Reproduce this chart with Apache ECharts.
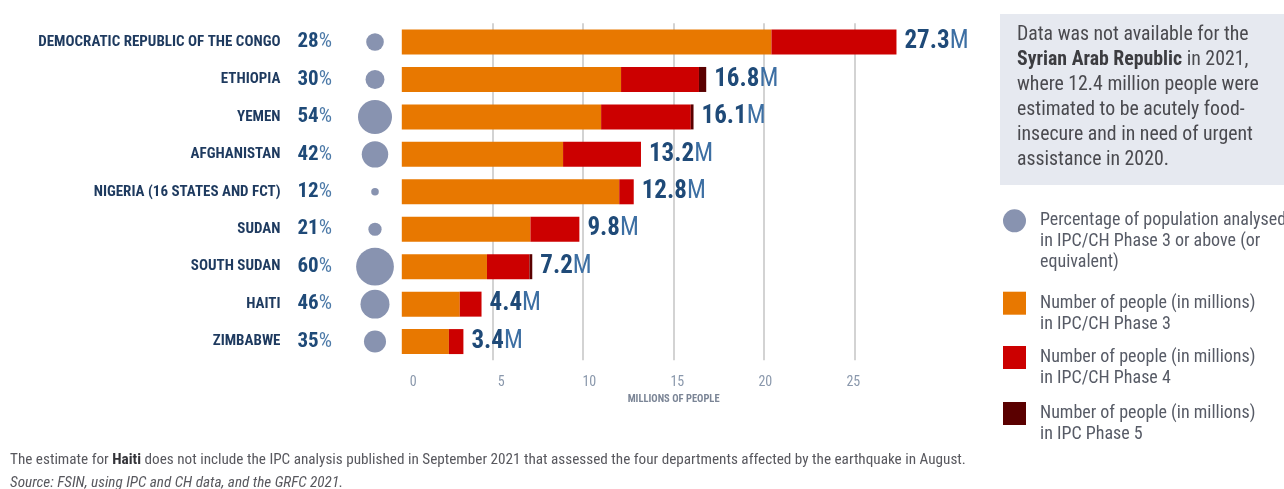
<!DOCTYPE html>
<html>
<head>
<meta charset="utf-8">
<script src="https://cdn.jsdelivr.net/npm/echarts@6/dist/echarts.min.js"></script>
<style>
html,body{margin:0;padding:0;background:#fff;}
#chart{width:1284px;height:489px;}
</style>
</head>
<body>
<div id="chart"></div>
<script>
const countries = ['DEMOCRATIC REPUBLIC OF THE CONGO','ETHIOPIA','YEMEN','AFGHANISTAN','NIGERIA (16 STATES AND FCT)','SUDAN','SOUTH SUDAN','HAITI','ZIMBABWE'];
const pctPhase3Plus = [28,30,54,42,12,21,60,46,35];
const phase3 = [20.4,12.1,11.0,8.9,12.0,7.1,4.7,3.2,2.6];
const phase4 = [6.9,4.3,4.95,4.3,0.8,2.7,2.35,1.2,0.8];
const phase5 = [0,0.4,0.15,0,0,0,0.15,0,0];
const totals = ['27.3','16.8','16.1','13.2','12.8','9.8','7.2','4.4','3.4'];
const xTickLabels = [0,5,10,15,20,25];

const FONT = "'Liberation Sans Narrow','Roboto Condensed','DejaVu Sans Condensed',sans-serif";
const NAME_PCT = 'Percentage of population analysed in IPC/CH Phase 3 or above (or equivalent)';
const NAME_P3 = 'Number of people (in millions) in IPC/CH Phase 3';
const NAME_P4 = 'Number of people (in millions) in IPC/CH Phase 4';
const NAME_P5 = 'Number of people (in millions) in IPC Phase 5';
const legendLines = {};
legendLines[NAME_PCT] = ['Percentage of population analysed', 'in IPC/CH Phase 3 or above (or', 'equivalent)'];
legendLines[NAME_P3] = ['Number of people (in millions)', 'in IPC/CH Phase 3'];
legendLines[NAME_P4] = ['Number of people (in millions)', 'in IPC/CH Phase 4'];
legendLines[NAME_P5] = ['Number of people (in millions)', 'in IPC Phase 5'];

const GRID_LEFT = 401.8, GRID_TOP = 23.3, GRID_H = 337, PX_PER_UNIT = 18.12, XMAX = 30;
const GRID_W = PX_PER_UNIT * XMAX;
const LABEL_PX = 17.6, LABEL_SHIFT = 11.5;
const lblMin = -LABEL_SHIFT / LABEL_PX;
const lblMax = lblMin + GRID_W / LABEL_PX;

const C3 = '#e87800', C4 = '#cc0000', C5 = '#5a0000', CIRC = '#8893b0';
const TXT = '#575b66';

// icon aligned with the first text line: pad the block with leading blank lines
function mkLegend(name, icon, top) {
  const lines = legendLines[name];
  const pad = new Array(lines.length - 1).fill('').join('\n');
  return {
    show: true, orient: 'vertical', left: 1003, top: top, padding: 0,
    itemWidth: 23, itemHeight: 23, selectedMode: false,
    data: [{name: name, icon: icon}],
    formatter: () => pad + '\n' + lines.join('\n'),
    textStyle: {fontFamily: FONT, fontSize: 18, lineHeight: 21, color: TXT, padding: [0, 0, 0, 9]}
  };
}

const chart = echarts.init(document.getElementById('chart'), null, {renderer: 'canvas'});
const option = {
  animation: false,
  backgroundColor: '#ffffff',
  title: [
    {
      left: 1000, top: 14,
      text: 'Data was not available for the\n{b|Syrian Arab Republic} in 2021,\nwhere 12.4 million people were\nestimated to be acutely food-\ninsecure and in need of urgent\nassistance in 2020.',
      backgroundColor: '#e6e9f0',
      padding: [9, 0, 12, 17],
      textStyle: {
        fontFamily: FONT, fontSize: 19.8, fontWeight: 'normal', color: '#4a4a4f', lineHeight: 25, width: 267,
        rich: {b: {fontFamily: FONT, fontSize: 19.8, fontWeight: 'bold', color: '#3c3c40', lineHeight: 25}}
      }
    },
    {
      left: 5, top: 444,
      text: '{n|The estimate for }{b|Haiti}{n| does not include the IPC analysis published in September 2021 that assessed the four departments affected by the earthquake in August.}\n{i|Source: FSIN, using IPC and CH data, and the GRFC 2021.}',
      textStyle: {
        fontFamily: FONT, fontSize: 15.2, fontWeight: 'normal', lineHeight: 23, color: '#58585e',
        rich: {
          n: {fontFamily: FONT, fontSize: 15.2, fontWeight: 'normal', color: '#58585e', lineHeight: 23},
          b: {fontFamily: FONT, fontSize: 15.2, fontWeight: 'bold', color: '#333338', lineHeight: 23},
          i: {fontFamily: FONT, fontSize: 15.2, fontWeight: 'normal', fontStyle: 'italic', color: '#58585e', lineHeight: 23}
        }
      }
    }
  ],
  legend: [
    mkLegend(NAME_PCT, 'circle', 168.3),
    mkLegend(NAME_P3, 'rect', 271.7),
    mkLegend(NAME_P4, 'rect', 326),
    mkLegend(NAME_P5, 'rect', 382)
  ],
  grid: [
    {left: GRID_LEFT, top: GRID_TOP, width: GRID_W, height: GRID_H, containLabel: false},
    {left: 355, top: GRID_TOP, width: 40, height: GRID_H, containLabel: false}
  ],
  xAxis: [
    {
      type: 'value', gridIndex: 0, min: 0, max: XMAX, interval: 5, position: 'top',
      axisLabel: {show: false}, axisTick: {show: false}, axisLine: {show: false},
      splitLine: {show: true, lineStyle: {width: 1.5,
        color: ['rgba(0,0,0,0)', '#c4c4c4', '#c4c4c4', '#c4c4c4', '#c4c4c4', '#c4c4c4', 'rgba(0,0,0,0)']}}
    },
    {
      type: 'value', gridIndex: 0, min: lblMin, max: lblMax, position: 'bottom',
      axisLine: {show: false}, axisTick: {show: false}, splitLine: {show: false},
      axisLabel: {show: true, customValues: xTickLabels, margin: 15, fontFamily: FONT, fontSize: 14, color: '#8a98ac'},
      name: 'MILLIONS OF PEOPLE', nameLocation: 'middle', nameGap: 33,
      nameTextStyle: {fontFamily: FONT, fontSize: 10.5, fontWeight: 'bold', color: '#7b8596'}
    },
    {
      type: 'category', gridIndex: 1, data: [''], show: false
    }
  ],
  yAxis: [
    {
      type: 'category', gridIndex: 0, data: countries, inverse: true,
      axisLabel: {show: false}, axisTick: {show: false}, axisLine: {show: false}, splitLine: {show: false}
    },
    {
      type: 'category', gridIndex: 1, data: countries, inverse: true,
      axisTick: {show: false}, axisLine: {show: false}, splitLine: {show: false},
      axisLabel: {
        margin: 23, align: 'right',
        formatter: (v, i) => '{n|' + v + '}{p|' + pctPhase3Plus[i] + '}{q|%}',
        rich: {
          n: {fontFamily: FONT, fontSize: 15, fontWeight: 'bold', color: '#1e3a5f'},
          p: {fontFamily: FONT, fontSize: 21, fontWeight: 'bold', color: '#1f4a78', padding: [0, 0, 0, 17]},
          q: {fontFamily: FONT, fontSize: 21, fontWeight: 'normal', color: '#4d7aa8'}
        }
      }
    }
  ],
  series: [
    {
      name: NAME_PCT, type: 'scatter', xAxisIndex: 2, yAxisIndex: 1,
      data: pctPhase3Plus.map((p, i) => [0, i, p]),
      symbol: 'circle', symbolSize: d => d[2] * 0.63,
      itemStyle: {color: CIRC, opacity: 1}
    },
    {
      name: NAME_P3, type: 'bar', stack: 'people', xAxisIndex: 0, yAxisIndex: 0,
      data: phase3, barWidth: 25, itemStyle: {color: C3}
    },
    {
      name: NAME_P4, type: 'bar', stack: 'people', xAxisIndex: 0, yAxisIndex: 0,
      data: phase4, barWidth: 25, itemStyle: {color: C4}
    },
    {
      name: NAME_P5, type: 'bar', stack: 'people', xAxisIndex: 0, yAxisIndex: 0,
      data: phase5, barWidth: 25, itemStyle: {color: C5},
      label: {
        show: true, position: 'right', distance: 8,
        formatter: p => '{b|' + totals[p.dataIndex] + '}{m|M}',
        rich: {
          b: {fontFamily: FONT, fontSize: 25, fontWeight: 'bold', color: '#1f4a78'},
          m: {fontFamily: FONT, fontSize: 25, fontWeight: 'normal', color: '#3d6fa3'}
        }
      }
    }
  ]
};
chart.setOption(option);
</script>
</body>
</html>
